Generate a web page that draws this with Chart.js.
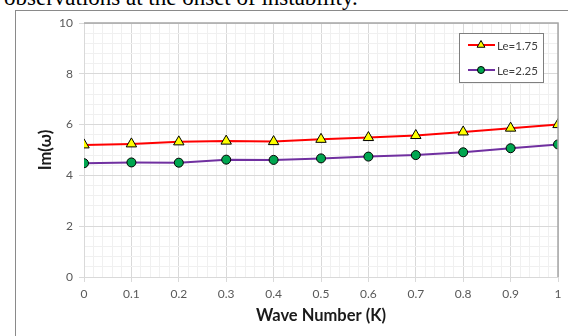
<!DOCTYPE html>
<html lang="en">
<head>
  <meta charset="UTF-8" />
  <title>Im(w) vs Wave Number</title>
  <script src="https://cdn.jsdelivr.net/npm/chart.js"></script>
  <style>
    html, body { margin: 0; padding: 0; background: #fff; width: 568px; height: 336px; overflow: hidden; }
    #caption { position: absolute; left: 4px; top: -15px; font-family: "Liberation Serif", serif; font-size: 23px; color: #000; white-space: nowrap; }
    #frame { position: absolute; left: 15px; top: 10px; width: 600px; height: 400px; border: 1px solid #8a8a8a; }
    #chart { position: absolute; left: 0; top: 0; }
  </style>
</head>
<body>
  <div id="caption">observations at the onset of instability.</div>
  <div id="frame"></div>
  <canvas id="chart" width="568" height="336"></canvas>

  <script>
    // data
    const waveNumbers = [0, 0.1, 0.2, 0.3, 0.4, 0.5, 0.6, 0.7, 0.8, 0.9, 1];
    const le175 = [5.20, 5.24, 5.32, 5.35, 5.33, 5.42, 5.49, 5.57, 5.71, 5.86, 6.00];
    const le225 = [4.48, 4.51, 4.50, 4.62, 4.61, 4.67, 4.74, 4.80, 4.91, 5.07, 5.22];
    const seriesNames = ['Le=1.75', 'Le=2.25'];
    const xTickLabels = ['0', '0.1', '0.2', '0.3', '0.4', '0.5', '0.6', '0.7', '0.8', '0.9', '1'];
    const yTickLabels = ['0', '2', '4', '6', '8', '10'];

    const FONT = 'Lato, "Liberation Sans", sans-serif';
    const MAJOR = '#d9d9d9', MINOR = '#f0f0f0';

    // plot border on top/right + legend box inside the plot
    const extras = {
      id: 'extras',
      afterDraw(chart) {
        const { ctx, chartArea: a } = chart;
        ctx.save();
        ctx.strokeStyle = '#a6a6a6';
        ctx.lineWidth = 1.5;
        ctx.beginPath();
        ctx.moveTo(a.left, a.top);
        ctx.lineTo(a.right, a.top);
        ctx.lineTo(a.right, a.bottom);
        ctx.stroke();

        const bx = a.right - 99, by = a.top + 10, bw = 84, bh = 49;
        ctx.fillStyle = '#fff';
        ctx.fillRect(bx, by, bw, bh);
        ctx.strokeStyle = '#7f7f7f';
        ctx.lineWidth = 1;
        ctx.strokeRect(bx + 0.5, by + 0.5, bw, bh);

        chart.data.datasets.forEach((ds, i) => {
          const y = by + 12 + i * 25;
          ctx.strokeStyle = ds.borderColor;
          ctx.lineWidth = 2;
          ctx.beginPath();
          ctx.moveTo(bx + 9, y);
          ctx.lineTo(bx + 36, y);
          ctx.stroke();
          ctx.fillStyle = ds.pointBackgroundColor;
          ctx.strokeStyle = '#000';
          ctx.lineWidth = 1;
          Chart.helpers.drawPoint(ctx, { pointStyle: ds.pointStyle, radius: ds.pointStyle === 'triangle' ? 4.5 : 3.5, rotation: 0, borderWidth: 1 }, bx + 22, y);
          ctx.fillStyle = '#404040';
          ctx.font = '11.5px ' + FONT;
          ctx.textBaseline = 'middle';
          ctx.textAlign = 'left';
          ctx.fillText(ds.label, bx + 38, y + 1);
        });
        ctx.restore();
      }
    };

    new Chart(document.getElementById('chart'), {
      type: 'line',
      data: {
        datasets: [
          {
            label: seriesNames[0],
            data: waveNumbers.map((k, i) => ({ x: k, y: le175[i] })),
            borderColor: '#ff0000',
            borderWidth: 2,
            pointStyle: 'triangle',
            pointRadius: 6,
            pointBackgroundColor: '#ffff00',
            pointBorderColor: '#000',
            pointBorderWidth: 1
          },
          {
            label: seriesNames[1],
            data: waveNumbers.map((k, i) => ({ x: k, y: le225[i] })),
            borderColor: '#7030a0',
            borderWidth: 2,
            pointStyle: 'circle',
            pointRadius: 4.5,
            pointBackgroundColor: '#00a650',
            pointBorderColor: '#000',
            pointBorderWidth: 1
          }
        ]
      },
      options: {
        responsive: false,
        animation: false,
        layout: { padding: { top: 23, right: 10, left: 36, bottom: 10 } },
        plugins: { legend: { display: false }, tooltip: { enabled: false } },
        scales: {
          x: {
            type: 'linear', min: 0, max: 1,
            ticks: {
              stepSize: 0.02, autoSkip: false, maxRotation: 0, padding: 5,
              color: '#595959', font: { family: FONT, size: 12 },
              callback: (v, i) => (i % 5 === 0 ? xTickLabels[i / 5] : '')
            },
            grid: {
              color: c => (c.index % 5 === 0 ? MAJOR : MINOR),
              tickColor: c => (c.index % 5 === 0 ? MAJOR : 'rgba(0,0,0,0)'),
              tickLength: 5
            },
            border: { color: MAJOR },
            title: { display: true, text: 'Wave Number (K)', color: '#1a1a1a', font: { family: FONT, size: 16.5, weight: 'bold' }, padding: 0 },
            afterFit: s => { s.height = 49; }
          },
          y: {
            min: 0, max: 10,
            ticks: {
              stepSize: 0.4, autoSkip: false, padding: 6,
              color: '#595959', font: { family: FONT, size: 12 },
              callback: (v, i) => (i % 5 === 0 ? yTickLabels[i / 5] : '')
            },
            grid: {
              color: c => (c.index % 5 === 0 ? MAJOR : MINOR),
              tickColor: c => (c.index % 5 === 0 ? MAJOR : 'rgba(0,0,0,0)'),
              tickLength: 5
            },
            border: { color: MAJOR },
            title: { display: true, text: 'Im(ω)', color: '#1a1a1a', font: { family: FONT, size: 16.5, weight: 'bold' }, padding: 0 },
            afterFit: s => { s.width = 48; }
          }
        }
      },
      plugins: [extras]
    });
  </script>
</body>
</html>
